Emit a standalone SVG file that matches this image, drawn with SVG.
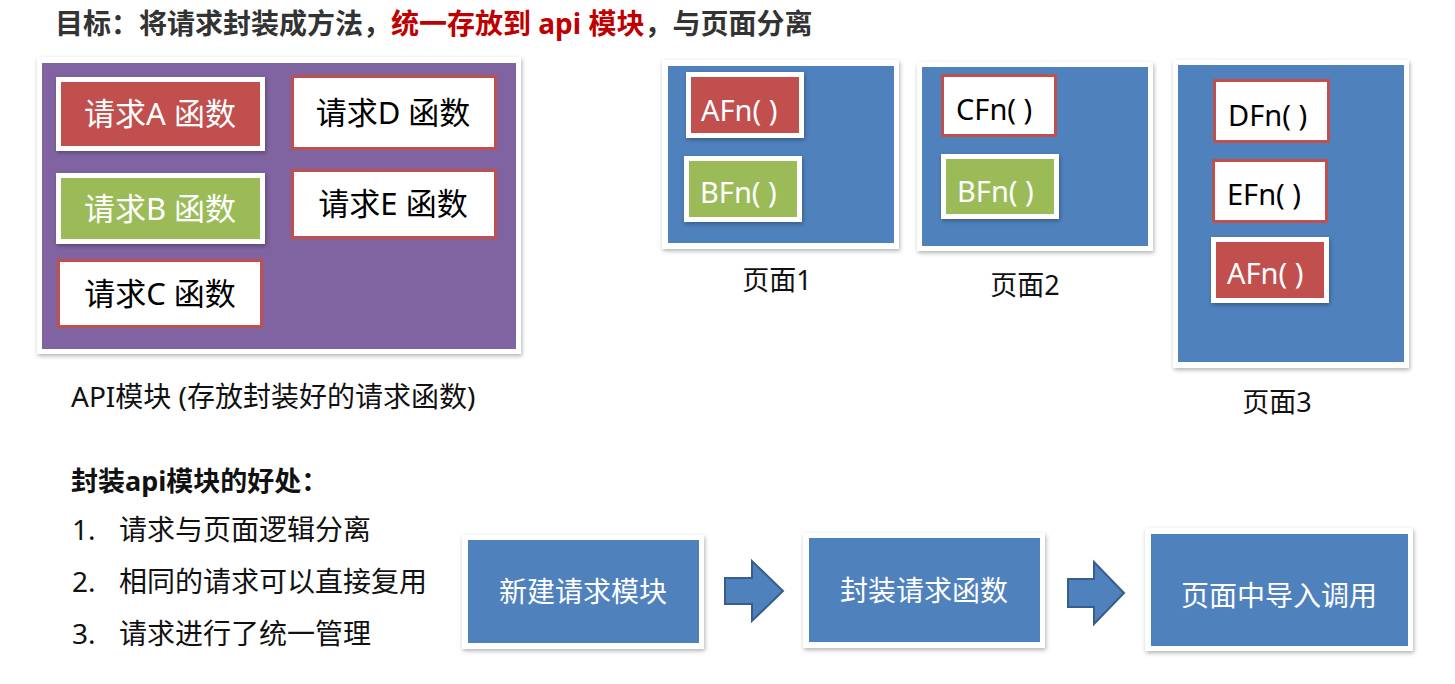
<svg xmlns="http://www.w3.org/2000/svg" width="1455" height="684" viewBox="0 0 1455 684">
<defs>
<filter id="sh" x="-10%" y="-10%" width="125%" height="130%">
<feDropShadow dx="1" dy="2" stdDeviation="2" flood-color="#000" flood-opacity="0.3"/>
</filter>
</defs>
<style>
text{font-family:"Noto Sans","Noto Sans CJK SC",sans-serif;}
.frame{fill:#fff;filter:url(#sh);}
.purple{fill:#8064A2;}
.blue{fill:#4F81BD;}
.redw{fill:#C0504D;stroke:#fff;stroke-width:5;filter:url(#sh);}
.greenw{fill:#9BBB59;stroke:#fff;stroke-width:5;filter:url(#sh);}
.whiter{fill:#fff;stroke:#C0504D;stroke-width:3;}
.big{font-size:31px;}
.fn{font-size:29px;}
.wt{fill:#fff;}
.bk{fill:#000;}
.lbl{font-size:27px;fill:#111;}
.step{font-size:28px;fill:#fff;}
.arrow{fill:#4F81BD;stroke:#385D8A;stroke-width:2;stroke-linejoin:miter;}
</style>

<g id="title">
<text x="55" y="34" font-size="28" font-weight="bold" fill="#333"><tspan>目标：将请求封装成方法，</tspan><tspan fill="#C00000">统一存放到 api 模块</tspan><tspan>，与页面分离</tspan></text>
</g>

<g id="api-module">
<rect class="frame" x="37" y="57" width="484" height="297"/>
<rect class="purple" x="42" y="63" width="474" height="286"/>
</g>
<g id="req-a">
<rect class="redw" x="58.5" y="79.5" width="204" height="69"/>
<text class="big wt" x="160" y="125" text-anchor="middle">请求A 函数</text>
</g>
<g id="req-d">
<rect class="whiter" x="292.5" y="76.5" width="203" height="72"/>
<text class="big bk" x="393" y="124" text-anchor="middle">请求D 函数</text>
</g>
<g id="req-b">
<rect class="greenw" x="58.5" y="175.5" width="204" height="66"/>
<text class="big wt" x="160" y="220" text-anchor="middle">请求B 函数</text>
</g>
<g id="req-e">
<rect class="whiter" x="292.5" y="170.5" width="203" height="67"/>
<text class="big bk" x="393" y="215" text-anchor="middle">请求E 函数</text>
</g>
<g id="req-c">
<rect class="whiter" x="58.5" y="260.5" width="203" height="66"/>
<text class="big bk" x="160" y="305" text-anchor="middle">请求C 函数</text>
</g>
<g id="api-label">
<text x="71" y="407" font-size="28" fill="#111">API模块 (存放封装好的请求函数)</text>
</g>

<g id="page1">
<rect class="frame" x="662" y="60" width="237" height="189"/>
<rect class="blue" x="668" y="66" width="226" height="177"/>
<rect class="redw" x="688.5" y="74.5" width="113" height="61"/>
<text class="fn wt" x="701" y="121">AFn( )</text>
<rect class="greenw" x="686.5" y="158.5" width="113" height="61"/>
<text class="fn wt" x="700" y="203">BFn( )</text>
<text class="lbl" x="777" y="290" text-anchor="middle">页面1</text>
</g>

<g id="page2">
<rect class="frame" x="917" y="62" width="236" height="189"/>
<rect class="blue" x="922" y="67" width="226" height="179"/>
<rect class="whiter" x="942.5" y="75.5" width="113" height="60"/>
<text class="fn bk" x="956" y="120">CFn( )</text>
<rect class="greenw" x="943.5" y="156.5" width="113" height="60"/>
<text class="fn wt" x="957" y="202">BFn( )</text>
<text class="lbl" x="1025" y="295" text-anchor="middle">页面2</text>
</g>

<g id="page3">
<rect class="frame" x="1173" y="60" width="236" height="308"/>
<rect class="blue" x="1178" y="65" width="226" height="297"/>
<rect class="whiter" x="1214.5" y="80.5" width="114" height="61"/>
<text class="fn bk" x="1228" y="126">DFn( )</text>
<rect class="whiter" x="1213.5" y="160.5" width="113" height="61"/>
<text class="fn bk" x="1227" y="205">EFn( )</text>
<rect class="redw" x="1213.5" y="239.5" width="113" height="61"/>
<text class="fn wt" x="1227" y="284">AFn( )</text>
<text class="lbl" x="1277" y="412" text-anchor="middle">页面3</text>
</g>

<g id="benefits">
<text x="71" y="491" font-size="27" font-weight="bold" fill="#111">封装api模块的好处：</text>
<text x="72" y="540" font-size="28" fill="#111">1.</text>
<text x="119" y="540" font-size="28" fill="#111">请求与页面逻辑分离</text>
<text x="72" y="592" font-size="28" fill="#111">2.</text>
<text x="119" y="592" font-size="28" fill="#111">相同的请求可以直接复用</text>
<text x="72" y="644" font-size="28" fill="#111">3.</text>
<text x="119" y="644" font-size="28" fill="#111">请求进行了统一管理</text>
</g>

<g id="step1">
<rect class="frame" x="462" y="535" width="242" height="114"/>
<rect class="blue" x="468" y="540" width="231" height="103"/>
<text class="step" x="583" y="602" text-anchor="middle">新建请求模块</text>
</g>
<g id="step2">
<rect class="frame" x="803" y="533" width="242" height="115"/>
<rect class="blue" x="809" y="538" width="231" height="104"/>
<text class="step" x="924" y="601" text-anchor="middle">封装请求函数</text>
</g>
<g id="step3">
<rect class="frame" x="1145" y="528" width="268" height="123"/>
<rect class="blue" x="1151" y="534" width="257" height="112"/>
<text class="step" x="1279" y="606" text-anchor="middle">页面中导入调用</text>
</g>

<g id="connectors">
<polygon class="arrow" points="725,578 752,578 752,561 783,591 752,621 752,604 725,604"/>
<polygon class="arrow" points="1068,579 1094,579 1094,562 1124,593 1094,624 1094,607 1068,607"/>
</g>
</svg>
